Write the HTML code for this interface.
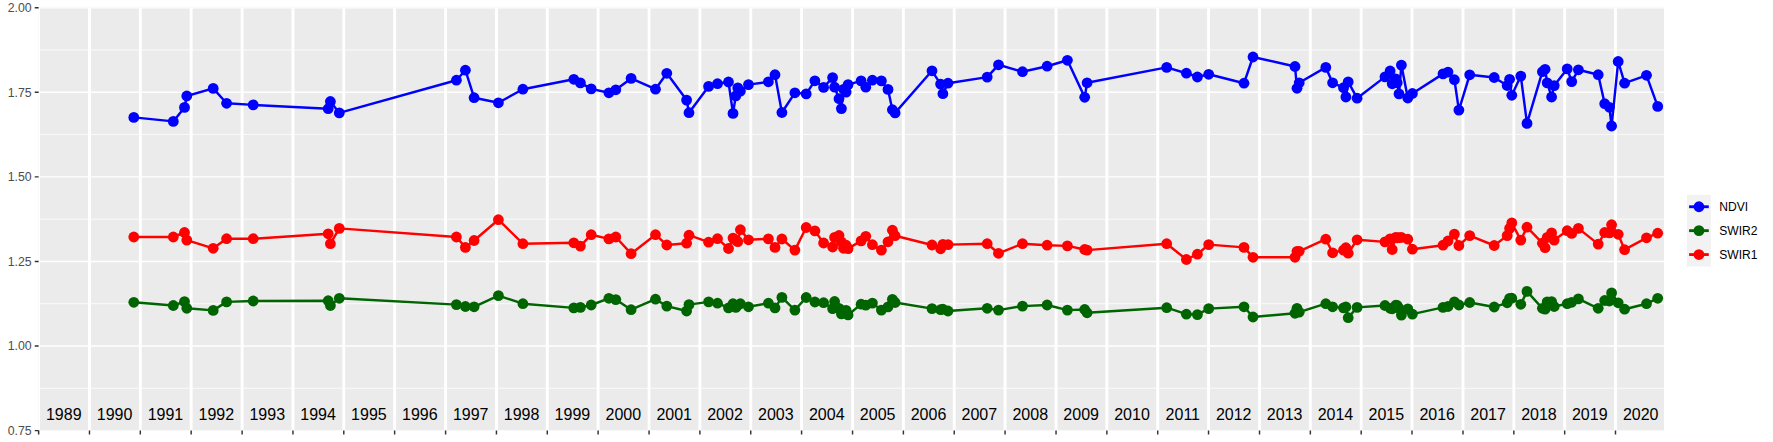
<!DOCTYPE html>
<html lang="en"><head><meta charset="utf-8"><title>Index time series</title>
<style>html,body{margin:0;padding:0;background:#fff}body{width:1773px;height:442px;overflow:hidden}svg{display:block}text{font-family:"Liberation Sans",Arial,Helvetica,sans-serif}</style>
</head><body>
<svg width="1773" height="442" viewBox="0 0 1773 442">
<rect width="1773" height="442" fill="#fff"/>
<defs><clipPath id="p"><rect x="38.64" y="7.70" width="1625.36" height="422.90"/></clipPath></defs>
<rect x="38.64" y="7.70" width="1625.36" height="422.90" fill="#EBEBEB"/>
<g clip-path="url(#p)">
<path d="M38.64 49.99H1664.00M38.64 134.57H1664.00M38.64 219.15H1664.00M38.64 303.73H1664.00M38.64 388.31H1664.00" stroke="#fff" stroke-width="0.75" fill="none"/>
<path d="M38.64 7.70H1664.00M38.64 92.28H1664.00M38.64 176.86H1664.00M38.64 261.44H1664.00M38.64 346.02H1664.00M38.64 430.60H1664.00" stroke="#fff" stroke-width="1.45" fill="none"/>
<path d="M38.64 7.70V430.60M89.48 7.70V430.60M140.31 7.70V430.60M191.15 7.70V430.60M242.12 7.70V430.60M292.95 7.70V430.60M343.79 7.70V430.60M394.62 7.70V430.60M445.60 7.70V430.60M496.43 7.70V430.60M547.27 7.70V430.60M598.10 7.70V430.60M649.08 7.70V430.60M699.91 7.70V430.60M750.75 7.70V430.60M801.58 7.70V430.60M852.56 7.70V430.60M903.39 7.70V430.60M954.23 7.70V430.60M1005.06 7.70V430.60M1056.04 7.70V430.60M1106.87 7.70V430.60M1157.71 7.70V430.60M1208.54 7.70V430.60M1259.52 7.70V430.60M1310.35 7.70V430.60M1361.19 7.70V430.60M1412.02 7.70V430.60M1462.99 7.70V430.60M1513.83 7.70V430.60M1564.66 7.70V430.60M1615.50 7.70V430.60" stroke="#fff" stroke-width="2.9" fill="none"/>
<polyline points="133.8,117.4 173.3,121.4 184.5,107.4 186.8,96.0 213.2,88.4 226.6,103.3 253.2,104.9 328.2,108.7 330.4,101.5 339.3,112.9 456.4,80.2 465.4,70.2 474.1,97.7 498.4,102.8 522.9,89.2 573.8,79.3 580.4,82.9 591.2,88.9 608.9,92.8 615.8,89.8 631.1,78.4 655.5,89.2 666.8,73.3 686.6,100.1 689.0,112.7 708.6,86.4 717.5,83.7 728.5,82.0 733.0,113.4 735.8,95.9 737.8,87.9 740.4,91.1 748.5,84.6 768.4,81.8 775.0,74.7 781.9,112.5 794.9,92.8 806.2,93.9 814.9,80.8 823.6,87.4 832.6,77.6 834.6,87.2 839.0,98.7 841.4,108.6 843.5,89.3 846.1,92.1 848.1,84.6 861.1,80.9 865.8,87.2 872.4,80.2 881.4,80.9 888.0,89.4 892.4,109.7 895.1,112.9 932.0,70.8 940.6,84.1 942.9,93.7 948.0,83.2 987.2,77.1 998.5,64.8 1022.5,71.7 1047.1,66.2 1067.4,60.3 1084.7,97.3 1087.1,82.8 1166.7,67.4 1186.4,73.2 1197.4,77.0 1208.7,74.3 1244.0,83.2 1253.0,57.0 1295.0,66.5 1297.0,88.3 1299.2,82.8 1325.8,67.4 1332.6,82.8 1343.5,87.7 1345.9,97.0 1348.2,81.9 1357.1,98.2 1385.0,76.9 1390.1,71.0 1392.2,83.8 1395.7,78.8 1397.2,82.8 1399.0,93.9 1401.4,65.1 1407.8,98.0 1412.4,93.5 1443.0,73.9 1448.0,72.1 1454.4,79.7 1458.9,110.1 1469.7,74.8 1494.2,77.5 1507.2,85.5 1509.6,79.3 1511.8,95.3 1520.8,76.1 1527.0,123.4 1542.4,71.7 1545.1,69.3 1547.2,82.9 1551.6,97.0 1554.2,85.6 1567.2,68.9 1571.7,81.6 1578.4,69.8 1598.2,74.7 1604.7,103.7 1609.4,107.3 1611.6,126.0 1618.2,61.5 1624.6,83.2 1646.5,75.3 1657.7,106.4" fill="none" stroke="#0000FF" stroke-width="2.45" stroke-linejoin="round" stroke-linecap="butt"/>
<g fill="#0000FF"><circle cx="133.8" cy="117.4" r="5.4"/><circle cx="173.3" cy="121.4" r="5.4"/><circle cx="184.5" cy="107.4" r="5.4"/><circle cx="186.8" cy="96.0" r="5.4"/><circle cx="213.2" cy="88.4" r="5.4"/><circle cx="226.6" cy="103.3" r="5.4"/><circle cx="253.2" cy="104.9" r="5.4"/><circle cx="328.2" cy="108.7" r="5.4"/><circle cx="330.4" cy="101.5" r="5.4"/><circle cx="339.3" cy="112.9" r="5.4"/><circle cx="456.4" cy="80.2" r="5.4"/><circle cx="465.4" cy="70.2" r="5.4"/><circle cx="474.1" cy="97.7" r="5.4"/><circle cx="498.4" cy="102.8" r="5.4"/><circle cx="522.9" cy="89.2" r="5.4"/><circle cx="573.8" cy="79.3" r="5.4"/><circle cx="580.4" cy="82.9" r="5.4"/><circle cx="591.2" cy="88.9" r="5.4"/><circle cx="608.9" cy="92.8" r="5.4"/><circle cx="615.8" cy="89.8" r="5.4"/><circle cx="631.1" cy="78.4" r="5.4"/><circle cx="655.5" cy="89.2" r="5.4"/><circle cx="666.8" cy="73.3" r="5.4"/><circle cx="686.6" cy="100.1" r="5.4"/><circle cx="689.0" cy="112.7" r="5.4"/><circle cx="708.6" cy="86.4" r="5.4"/><circle cx="717.5" cy="83.7" r="5.4"/><circle cx="728.5" cy="82.0" r="5.4"/><circle cx="733.0" cy="113.4" r="5.4"/><circle cx="735.8" cy="95.9" r="5.4"/><circle cx="737.8" cy="87.9" r="5.4"/><circle cx="740.4" cy="91.1" r="5.4"/><circle cx="748.5" cy="84.6" r="5.4"/><circle cx="768.4" cy="81.8" r="5.4"/><circle cx="775.0" cy="74.7" r="5.4"/><circle cx="781.9" cy="112.5" r="5.4"/><circle cx="794.9" cy="92.8" r="5.4"/><circle cx="806.2" cy="93.9" r="5.4"/><circle cx="814.9" cy="80.8" r="5.4"/><circle cx="823.6" cy="87.4" r="5.4"/><circle cx="832.6" cy="77.6" r="5.4"/><circle cx="834.6" cy="87.2" r="5.4"/><circle cx="839.0" cy="98.7" r="5.4"/><circle cx="841.4" cy="108.6" r="5.4"/><circle cx="843.5" cy="89.3" r="5.4"/><circle cx="846.1" cy="92.1" r="5.4"/><circle cx="848.1" cy="84.6" r="5.4"/><circle cx="861.1" cy="80.9" r="5.4"/><circle cx="865.8" cy="87.2" r="5.4"/><circle cx="872.4" cy="80.2" r="5.4"/><circle cx="881.4" cy="80.9" r="5.4"/><circle cx="888.0" cy="89.4" r="5.4"/><circle cx="892.4" cy="109.7" r="5.4"/><circle cx="895.1" cy="112.9" r="5.4"/><circle cx="932.0" cy="70.8" r="5.4"/><circle cx="940.6" cy="84.1" r="5.4"/><circle cx="942.9" cy="93.7" r="5.4"/><circle cx="948.0" cy="83.2" r="5.4"/><circle cx="987.2" cy="77.1" r="5.4"/><circle cx="998.5" cy="64.8" r="5.4"/><circle cx="1022.5" cy="71.7" r="5.4"/><circle cx="1047.1" cy="66.2" r="5.4"/><circle cx="1067.4" cy="60.3" r="5.4"/><circle cx="1084.7" cy="97.3" r="5.4"/><circle cx="1087.1" cy="82.8" r="5.4"/><circle cx="1166.7" cy="67.4" r="5.4"/><circle cx="1186.4" cy="73.2" r="5.4"/><circle cx="1197.4" cy="77.0" r="5.4"/><circle cx="1208.7" cy="74.3" r="5.4"/><circle cx="1244.0" cy="83.2" r="5.4"/><circle cx="1253.0" cy="57.0" r="5.4"/><circle cx="1295.0" cy="66.5" r="5.4"/><circle cx="1297.0" cy="88.3" r="5.4"/><circle cx="1299.2" cy="82.8" r="5.4"/><circle cx="1325.8" cy="67.4" r="5.4"/><circle cx="1332.6" cy="82.8" r="5.4"/><circle cx="1343.5" cy="87.7" r="5.4"/><circle cx="1345.9" cy="97.0" r="5.4"/><circle cx="1348.2" cy="81.9" r="5.4"/><circle cx="1357.1" cy="98.2" r="5.4"/><circle cx="1385.0" cy="76.9" r="5.4"/><circle cx="1390.1" cy="71.0" r="5.4"/><circle cx="1392.2" cy="83.8" r="5.4"/><circle cx="1395.7" cy="78.8" r="5.4"/><circle cx="1397.2" cy="82.8" r="5.4"/><circle cx="1399.0" cy="93.9" r="5.4"/><circle cx="1401.4" cy="65.1" r="5.4"/><circle cx="1407.8" cy="98.0" r="5.4"/><circle cx="1412.4" cy="93.5" r="5.4"/><circle cx="1443.0" cy="73.9" r="5.4"/><circle cx="1448.0" cy="72.1" r="5.4"/><circle cx="1454.4" cy="79.7" r="5.4"/><circle cx="1458.9" cy="110.1" r="5.4"/><circle cx="1469.7" cy="74.8" r="5.4"/><circle cx="1494.2" cy="77.5" r="5.4"/><circle cx="1507.2" cy="85.5" r="5.4"/><circle cx="1509.6" cy="79.3" r="5.4"/><circle cx="1511.8" cy="95.3" r="5.4"/><circle cx="1520.8" cy="76.1" r="5.4"/><circle cx="1527.0" cy="123.4" r="5.4"/><circle cx="1542.4" cy="71.7" r="5.4"/><circle cx="1545.1" cy="69.3" r="5.4"/><circle cx="1547.2" cy="82.9" r="5.4"/><circle cx="1551.6" cy="97.0" r="5.4"/><circle cx="1554.2" cy="85.6" r="5.4"/><circle cx="1567.2" cy="68.9" r="5.4"/><circle cx="1571.7" cy="81.6" r="5.4"/><circle cx="1578.4" cy="69.8" r="5.4"/><circle cx="1598.2" cy="74.7" r="5.4"/><circle cx="1604.7" cy="103.7" r="5.4"/><circle cx="1609.4" cy="107.3" r="5.4"/><circle cx="1611.6" cy="126.0" r="5.4"/><circle cx="1618.2" cy="61.5" r="5.4"/><circle cx="1624.6" cy="83.2" r="5.4"/><circle cx="1646.5" cy="75.3" r="5.4"/><circle cx="1657.7" cy="106.4" r="5.4"/></g>
<polyline points="133.8,302.3 173.3,305.5 184.5,301.6 186.8,308.3 213.2,310.4 226.6,301.9 253.2,301.0 328.2,300.7 330.4,305.5 339.3,298.3 456.4,304.6 465.4,306.5 474.1,306.8 498.4,295.6 522.9,303.7 573.8,307.9 580.4,307.4 591.2,305.0 608.9,298.3 615.8,299.6 631.1,309.7 655.5,299.2 666.8,306.1 686.6,311.0 689.0,304.6 708.6,301.9 717.5,303.2 728.5,307.9 733.0,303.7 735.8,307.4 737.8,305.3 740.4,303.7 748.5,306.8 768.4,303.2 775.0,307.9 781.9,297.4 794.9,310.1 806.2,297.5 814.9,302.0 823.6,302.7 832.6,308.6 834.6,301.5 839.0,308.3 841.4,313.9 843.5,310.8 846.1,310.3 848.1,314.9 861.1,304.2 865.8,305.1 872.4,303.1 881.4,310.1 888.0,306.9 892.4,299.4 895.1,302.5 932.0,308.6 940.6,309.7 942.9,309.2 948.0,311.0 987.2,308.3 998.5,310.1 1022.5,306.1 1047.1,305.0 1067.4,310.1 1084.7,309.5 1087.1,312.8 1166.7,307.7 1186.4,314.2 1197.4,314.6 1208.7,308.6 1244.0,306.8 1253.0,317.0 1295.0,313.3 1297.0,308.3 1299.2,312.2 1325.8,303.7 1332.6,306.8 1343.5,307.9 1345.9,307.0 1348.2,317.7 1357.1,307.4 1385.0,305.5 1390.1,308.3 1392.2,308.8 1395.7,305.2 1397.2,305.5 1399.0,308.3 1401.4,315.1 1407.8,308.8 1412.4,314.1 1443.0,307.4 1448.0,306.5 1454.4,301.9 1458.9,305.0 1469.7,302.5 1494.2,307.0 1507.2,302.8 1509.6,298.3 1511.8,298.2 1520.8,304.3 1527.0,291.4 1542.4,308.3 1545.1,309.2 1547.2,301.9 1551.6,301.6 1554.2,306.5 1567.2,303.7 1571.7,302.3 1578.4,298.9 1598.2,308.3 1604.7,300.5 1609.4,301.0 1611.6,292.9 1618.2,302.8 1624.6,309.2 1646.5,303.7 1657.7,298.3" fill="none" stroke="#006400" stroke-width="2.45" stroke-linejoin="round" stroke-linecap="butt"/>
<g fill="#006400"><circle cx="133.8" cy="302.3" r="5.4"/><circle cx="173.3" cy="305.5" r="5.4"/><circle cx="184.5" cy="301.6" r="5.4"/><circle cx="186.8" cy="308.3" r="5.4"/><circle cx="213.2" cy="310.4" r="5.4"/><circle cx="226.6" cy="301.9" r="5.4"/><circle cx="253.2" cy="301.0" r="5.4"/><circle cx="328.2" cy="300.7" r="5.4"/><circle cx="330.4" cy="305.5" r="5.4"/><circle cx="339.3" cy="298.3" r="5.4"/><circle cx="456.4" cy="304.6" r="5.4"/><circle cx="465.4" cy="306.5" r="5.4"/><circle cx="474.1" cy="306.8" r="5.4"/><circle cx="498.4" cy="295.6" r="5.4"/><circle cx="522.9" cy="303.7" r="5.4"/><circle cx="573.8" cy="307.9" r="5.4"/><circle cx="580.4" cy="307.4" r="5.4"/><circle cx="591.2" cy="305.0" r="5.4"/><circle cx="608.9" cy="298.3" r="5.4"/><circle cx="615.8" cy="299.6" r="5.4"/><circle cx="631.1" cy="309.7" r="5.4"/><circle cx="655.5" cy="299.2" r="5.4"/><circle cx="666.8" cy="306.1" r="5.4"/><circle cx="686.6" cy="311.0" r="5.4"/><circle cx="689.0" cy="304.6" r="5.4"/><circle cx="708.6" cy="301.9" r="5.4"/><circle cx="717.5" cy="303.2" r="5.4"/><circle cx="728.5" cy="307.9" r="5.4"/><circle cx="733.0" cy="303.7" r="5.4"/><circle cx="735.8" cy="307.4" r="5.4"/><circle cx="737.8" cy="305.3" r="5.4"/><circle cx="740.4" cy="303.7" r="5.4"/><circle cx="748.5" cy="306.8" r="5.4"/><circle cx="768.4" cy="303.2" r="5.4"/><circle cx="775.0" cy="307.9" r="5.4"/><circle cx="781.9" cy="297.4" r="5.4"/><circle cx="794.9" cy="310.1" r="5.4"/><circle cx="806.2" cy="297.5" r="5.4"/><circle cx="814.9" cy="302.0" r="5.4"/><circle cx="823.6" cy="302.7" r="5.4"/><circle cx="832.6" cy="308.6" r="5.4"/><circle cx="834.6" cy="301.5" r="5.4"/><circle cx="839.0" cy="308.3" r="5.4"/><circle cx="841.4" cy="313.9" r="5.4"/><circle cx="843.5" cy="310.8" r="5.4"/><circle cx="846.1" cy="310.3" r="5.4"/><circle cx="848.1" cy="314.9" r="5.4"/><circle cx="861.1" cy="304.2" r="5.4"/><circle cx="865.8" cy="305.1" r="5.4"/><circle cx="872.4" cy="303.1" r="5.4"/><circle cx="881.4" cy="310.1" r="5.4"/><circle cx="888.0" cy="306.9" r="5.4"/><circle cx="892.4" cy="299.4" r="5.4"/><circle cx="895.1" cy="302.5" r="5.4"/><circle cx="932.0" cy="308.6" r="5.4"/><circle cx="940.6" cy="309.7" r="5.4"/><circle cx="942.9" cy="309.2" r="5.4"/><circle cx="948.0" cy="311.0" r="5.4"/><circle cx="987.2" cy="308.3" r="5.4"/><circle cx="998.5" cy="310.1" r="5.4"/><circle cx="1022.5" cy="306.1" r="5.4"/><circle cx="1047.1" cy="305.0" r="5.4"/><circle cx="1067.4" cy="310.1" r="5.4"/><circle cx="1084.7" cy="309.5" r="5.4"/><circle cx="1087.1" cy="312.8" r="5.4"/><circle cx="1166.7" cy="307.7" r="5.4"/><circle cx="1186.4" cy="314.2" r="5.4"/><circle cx="1197.4" cy="314.6" r="5.4"/><circle cx="1208.7" cy="308.6" r="5.4"/><circle cx="1244.0" cy="306.8" r="5.4"/><circle cx="1253.0" cy="317.0" r="5.4"/><circle cx="1295.0" cy="313.3" r="5.4"/><circle cx="1297.0" cy="308.3" r="5.4"/><circle cx="1299.2" cy="312.2" r="5.4"/><circle cx="1325.8" cy="303.7" r="5.4"/><circle cx="1332.6" cy="306.8" r="5.4"/><circle cx="1343.5" cy="307.9" r="5.4"/><circle cx="1345.9" cy="307.0" r="5.4"/><circle cx="1348.2" cy="317.7" r="5.4"/><circle cx="1357.1" cy="307.4" r="5.4"/><circle cx="1385.0" cy="305.5" r="5.4"/><circle cx="1390.1" cy="308.3" r="5.4"/><circle cx="1392.2" cy="308.8" r="5.4"/><circle cx="1395.7" cy="305.2" r="5.4"/><circle cx="1397.2" cy="305.5" r="5.4"/><circle cx="1399.0" cy="308.3" r="5.4"/><circle cx="1401.4" cy="315.1" r="5.4"/><circle cx="1407.8" cy="308.8" r="5.4"/><circle cx="1412.4" cy="314.1" r="5.4"/><circle cx="1443.0" cy="307.4" r="5.4"/><circle cx="1448.0" cy="306.5" r="5.4"/><circle cx="1454.4" cy="301.9" r="5.4"/><circle cx="1458.9" cy="305.0" r="5.4"/><circle cx="1469.7" cy="302.5" r="5.4"/><circle cx="1494.2" cy="307.0" r="5.4"/><circle cx="1507.2" cy="302.8" r="5.4"/><circle cx="1509.6" cy="298.3" r="5.4"/><circle cx="1511.8" cy="298.2" r="5.4"/><circle cx="1520.8" cy="304.3" r="5.4"/><circle cx="1527.0" cy="291.4" r="5.4"/><circle cx="1542.4" cy="308.3" r="5.4"/><circle cx="1545.1" cy="309.2" r="5.4"/><circle cx="1547.2" cy="301.9" r="5.4"/><circle cx="1551.6" cy="301.6" r="5.4"/><circle cx="1554.2" cy="306.5" r="5.4"/><circle cx="1567.2" cy="303.7" r="5.4"/><circle cx="1571.7" cy="302.3" r="5.4"/><circle cx="1578.4" cy="298.9" r="5.4"/><circle cx="1598.2" cy="308.3" r="5.4"/><circle cx="1604.7" cy="300.5" r="5.4"/><circle cx="1609.4" cy="301.0" r="5.4"/><circle cx="1611.6" cy="292.9" r="5.4"/><circle cx="1618.2" cy="302.8" r="5.4"/><circle cx="1624.6" cy="309.2" r="5.4"/><circle cx="1646.5" cy="303.7" r="5.4"/><circle cx="1657.7" cy="298.3" r="5.4"/></g>
<polyline points="133.8,237.0 173.3,237.0 184.5,232.5 186.8,240.1 213.2,248.3 226.6,238.7 253.2,238.7 328.2,233.8 330.4,243.7 339.3,228.4 456.4,237.0 465.4,247.4 474.1,240.5 498.4,219.7 522.9,243.7 573.8,242.8 580.4,246.1 591.2,234.7 608.9,238.9 615.8,237.0 631.1,253.7 655.5,234.7 666.8,245.0 686.6,243.2 689.0,235.2 708.6,242.2 717.5,238.7 728.5,248.5 733.0,238.1 735.8,240.1 737.8,241.6 740.4,229.7 748.5,239.8 768.4,238.9 775.0,247.4 781.9,239.0 794.9,250.1 806.2,227.5 814.9,230.9 823.6,243.0 832.6,247.0 834.6,237.4 839.0,235.5 841.4,242.0 843.5,248.3 846.1,245.2 848.1,248.6 861.1,240.9 865.8,236.3 872.4,244.7 881.4,250.1 888.0,241.8 892.4,230.2 895.1,235.7 932.0,245.0 940.6,248.8 942.9,244.3 948.0,244.6 987.2,243.7 998.5,253.3 1022.5,243.7 1047.1,245.2 1067.4,245.9 1084.7,249.5 1087.1,250.1 1166.7,243.7 1186.4,259.5 1197.4,254.2 1208.7,244.6 1244.0,247.4 1253.0,257.3 1295.0,257.3 1297.0,251.3 1299.2,251.3 1325.8,239.2 1332.6,252.8 1343.5,250.1 1345.9,247.7 1348.2,253.2 1357.1,239.8 1385.0,241.9 1390.1,238.9 1392.2,249.5 1395.7,237.4 1397.2,237.8 1399.0,237.6 1401.4,237.4 1407.8,239.2 1412.4,249.2 1443.0,245.2 1448.0,241.0 1454.4,234.1 1458.9,245.5 1469.7,235.6 1494.2,245.5 1507.2,235.6 1509.6,228.4 1511.8,222.9 1520.8,240.1 1527.0,227.2 1542.4,243.2 1545.1,247.7 1547.2,237.4 1551.6,232.9 1554.2,240.1 1567.2,230.7 1571.7,233.4 1578.4,228.4 1598.2,244.1 1604.7,232.5 1609.4,232.9 1611.6,224.7 1618.2,234.3 1624.6,249.7 1646.5,237.8 1657.7,233.2" fill="none" stroke="#FF0000" stroke-width="2.45" stroke-linejoin="round" stroke-linecap="butt"/>
<g fill="#FF0000"><circle cx="133.8" cy="237.0" r="5.4"/><circle cx="173.3" cy="237.0" r="5.4"/><circle cx="184.5" cy="232.5" r="5.4"/><circle cx="186.8" cy="240.1" r="5.4"/><circle cx="213.2" cy="248.3" r="5.4"/><circle cx="226.6" cy="238.7" r="5.4"/><circle cx="253.2" cy="238.7" r="5.4"/><circle cx="328.2" cy="233.8" r="5.4"/><circle cx="330.4" cy="243.7" r="5.4"/><circle cx="339.3" cy="228.4" r="5.4"/><circle cx="456.4" cy="237.0" r="5.4"/><circle cx="465.4" cy="247.4" r="5.4"/><circle cx="474.1" cy="240.5" r="5.4"/><circle cx="498.4" cy="219.7" r="5.4"/><circle cx="522.9" cy="243.7" r="5.4"/><circle cx="573.8" cy="242.8" r="5.4"/><circle cx="580.4" cy="246.1" r="5.4"/><circle cx="591.2" cy="234.7" r="5.4"/><circle cx="608.9" cy="238.9" r="5.4"/><circle cx="615.8" cy="237.0" r="5.4"/><circle cx="631.1" cy="253.7" r="5.4"/><circle cx="655.5" cy="234.7" r="5.4"/><circle cx="666.8" cy="245.0" r="5.4"/><circle cx="686.6" cy="243.2" r="5.4"/><circle cx="689.0" cy="235.2" r="5.4"/><circle cx="708.6" cy="242.2" r="5.4"/><circle cx="717.5" cy="238.7" r="5.4"/><circle cx="728.5" cy="248.5" r="5.4"/><circle cx="733.0" cy="238.1" r="5.4"/><circle cx="735.8" cy="240.1" r="5.4"/><circle cx="737.8" cy="241.6" r="5.4"/><circle cx="740.4" cy="229.7" r="5.4"/><circle cx="748.5" cy="239.8" r="5.4"/><circle cx="768.4" cy="238.9" r="5.4"/><circle cx="775.0" cy="247.4" r="5.4"/><circle cx="781.9" cy="239.0" r="5.4"/><circle cx="794.9" cy="250.1" r="5.4"/><circle cx="806.2" cy="227.5" r="5.4"/><circle cx="814.9" cy="230.9" r="5.4"/><circle cx="823.6" cy="243.0" r="5.4"/><circle cx="832.6" cy="247.0" r="5.4"/><circle cx="834.6" cy="237.4" r="5.4"/><circle cx="839.0" cy="235.5" r="5.4"/><circle cx="841.4" cy="242.0" r="5.4"/><circle cx="843.5" cy="248.3" r="5.4"/><circle cx="846.1" cy="245.2" r="5.4"/><circle cx="848.1" cy="248.6" r="5.4"/><circle cx="861.1" cy="240.9" r="5.4"/><circle cx="865.8" cy="236.3" r="5.4"/><circle cx="872.4" cy="244.7" r="5.4"/><circle cx="881.4" cy="250.1" r="5.4"/><circle cx="888.0" cy="241.8" r="5.4"/><circle cx="892.4" cy="230.2" r="5.4"/><circle cx="895.1" cy="235.7" r="5.4"/><circle cx="932.0" cy="245.0" r="5.4"/><circle cx="940.6" cy="248.8" r="5.4"/><circle cx="942.9" cy="244.3" r="5.4"/><circle cx="948.0" cy="244.6" r="5.4"/><circle cx="987.2" cy="243.7" r="5.4"/><circle cx="998.5" cy="253.3" r="5.4"/><circle cx="1022.5" cy="243.7" r="5.4"/><circle cx="1047.1" cy="245.2" r="5.4"/><circle cx="1067.4" cy="245.9" r="5.4"/><circle cx="1084.7" cy="249.5" r="5.4"/><circle cx="1087.1" cy="250.1" r="5.4"/><circle cx="1166.7" cy="243.7" r="5.4"/><circle cx="1186.4" cy="259.5" r="5.4"/><circle cx="1197.4" cy="254.2" r="5.4"/><circle cx="1208.7" cy="244.6" r="5.4"/><circle cx="1244.0" cy="247.4" r="5.4"/><circle cx="1253.0" cy="257.3" r="5.4"/><circle cx="1295.0" cy="257.3" r="5.4"/><circle cx="1297.0" cy="251.3" r="5.4"/><circle cx="1299.2" cy="251.3" r="5.4"/><circle cx="1325.8" cy="239.2" r="5.4"/><circle cx="1332.6" cy="252.8" r="5.4"/><circle cx="1343.5" cy="250.1" r="5.4"/><circle cx="1345.9" cy="247.7" r="5.4"/><circle cx="1348.2" cy="253.2" r="5.4"/><circle cx="1357.1" cy="239.8" r="5.4"/><circle cx="1385.0" cy="241.9" r="5.4"/><circle cx="1390.1" cy="238.9" r="5.4"/><circle cx="1392.2" cy="249.5" r="5.4"/><circle cx="1395.7" cy="237.4" r="5.4"/><circle cx="1397.2" cy="237.8" r="5.4"/><circle cx="1399.0" cy="237.6" r="5.4"/><circle cx="1401.4" cy="237.4" r="5.4"/><circle cx="1407.8" cy="239.2" r="5.4"/><circle cx="1412.4" cy="249.2" r="5.4"/><circle cx="1443.0" cy="245.2" r="5.4"/><circle cx="1448.0" cy="241.0" r="5.4"/><circle cx="1454.4" cy="234.1" r="5.4"/><circle cx="1458.9" cy="245.5" r="5.4"/><circle cx="1469.7" cy="235.6" r="5.4"/><circle cx="1494.2" cy="245.5" r="5.4"/><circle cx="1507.2" cy="235.6" r="5.4"/><circle cx="1509.6" cy="228.4" r="5.4"/><circle cx="1511.8" cy="222.9" r="5.4"/><circle cx="1520.8" cy="240.1" r="5.4"/><circle cx="1527.0" cy="227.2" r="5.4"/><circle cx="1542.4" cy="243.2" r="5.4"/><circle cx="1545.1" cy="247.7" r="5.4"/><circle cx="1547.2" cy="237.4" r="5.4"/><circle cx="1551.6" cy="232.9" r="5.4"/><circle cx="1554.2" cy="240.1" r="5.4"/><circle cx="1567.2" cy="230.7" r="5.4"/><circle cx="1571.7" cy="233.4" r="5.4"/><circle cx="1578.4" cy="228.4" r="5.4"/><circle cx="1598.2" cy="244.1" r="5.4"/><circle cx="1604.7" cy="232.5" r="5.4"/><circle cx="1609.4" cy="232.9" r="5.4"/><circle cx="1611.6" cy="224.7" r="5.4"/><circle cx="1618.2" cy="234.3" r="5.4"/><circle cx="1624.6" cy="249.7" r="5.4"/><circle cx="1646.5" cy="237.8" r="5.4"/><circle cx="1657.7" cy="233.2" r="5.4"/></g>
</g>
<path d="M34.74 7.70H38.64M34.74 92.28H38.64M34.74 176.86H38.64M34.74 261.44H38.64M34.74 346.02H38.64M34.74 430.60H38.64M38.64 430.60V434.50M89.48 430.60V434.50M140.31 430.60V434.50M191.15 430.60V434.50M242.12 430.60V434.50M292.95 430.60V434.50M343.79 430.60V434.50M394.62 430.60V434.50M445.60 430.60V434.50M496.43 430.60V434.50M547.27 430.60V434.50M598.10 430.60V434.50M649.08 430.60V434.50M699.91 430.60V434.50M750.75 430.60V434.50M801.58 430.60V434.50M852.56 430.60V434.50M903.39 430.60V434.50M954.23 430.60V434.50M1005.06 430.60V434.50M1056.04 430.60V434.50M1106.87 430.60V434.50M1157.71 430.60V434.50M1208.54 430.60V434.50M1259.52 430.60V434.50M1310.35 430.60V434.50M1361.19 430.60V434.50M1412.02 430.60V434.50M1462.99 430.60V434.50M1513.83 430.60V434.50M1564.66 430.60V434.50M1615.50 430.60V434.50" stroke="#333" stroke-width="1.45" fill="none"/>
<g font-size="12.3" fill="#4D4D4D" text-anchor="end">
<text x="31.7" y="12.10">2.00</text>
<text x="31.7" y="96.68">1.75</text>
<text x="31.7" y="181.26">1.50</text>
<text x="31.7" y="265.84">1.25</text>
<text x="31.7" y="350.42">1.00</text>
<text x="31.7" y="435.00">0.75</text>
</g>
<g font-size="16" fill="#000" text-anchor="middle">
<text x="63.76" y="420">1989</text>
<text x="114.59" y="420">1990</text>
<text x="165.43" y="420">1991</text>
<text x="216.33" y="420">1992</text>
<text x="267.24" y="420">1993</text>
<text x="318.07" y="420">1994</text>
<text x="368.91" y="420">1995</text>
<text x="419.81" y="420">1996</text>
<text x="470.72" y="420">1997</text>
<text x="521.55" y="420">1998</text>
<text x="572.39" y="420">1999</text>
<text x="623.29" y="420">2000</text>
<text x="674.20" y="420">2001</text>
<text x="725.03" y="420">2002</text>
<text x="775.87" y="420">2003</text>
<text x="826.77" y="420">2004</text>
<text x="877.67" y="420">2005</text>
<text x="928.51" y="420">2006</text>
<text x="979.34" y="420">2007</text>
<text x="1030.25" y="420">2008</text>
<text x="1081.15" y="420">2009</text>
<text x="1131.99" y="420">2010</text>
<text x="1182.82" y="420">2011</text>
<text x="1233.73" y="420">2012</text>
<text x="1284.63" y="420">2013</text>
<text x="1335.47" y="420">2014</text>
<text x="1386.30" y="420">2015</text>
<text x="1437.21" y="420">2016</text>
<text x="1488.11" y="420">2017</text>
<text x="1538.95" y="420">2018</text>
<text x="1589.78" y="420">2019</text>
<text x="1640.69" y="420">2020</text>
</g>
<rect x="1687.00" y="194.80" width="23.90" height="71.70" fill="#F2F2F2"/>
<path d="M1689.10 206.75H1708.80" stroke="#0000FF" stroke-width="2.85"/>
<circle cx="1698.95" cy="206.75" r="5.4" fill="#0000FF"/>
<text x="1719.2" y="211.05" font-size="12.1" fill="#000">NDVI</text>
<path d="M1689.10 230.65H1708.80" stroke="#006400" stroke-width="2.85"/>
<circle cx="1698.95" cy="230.65" r="5.4" fill="#006400"/>
<text x="1719.2" y="234.95" font-size="12.1" fill="#000">SWIR2</text>
<path d="M1689.10 254.55H1708.80" stroke="#FF0000" stroke-width="2.85"/>
<circle cx="1698.95" cy="254.55" r="5.4" fill="#FF0000"/>
<text x="1719.2" y="258.85" font-size="12.1" fill="#000">SWIR1</text>
</svg>
</body></html>
